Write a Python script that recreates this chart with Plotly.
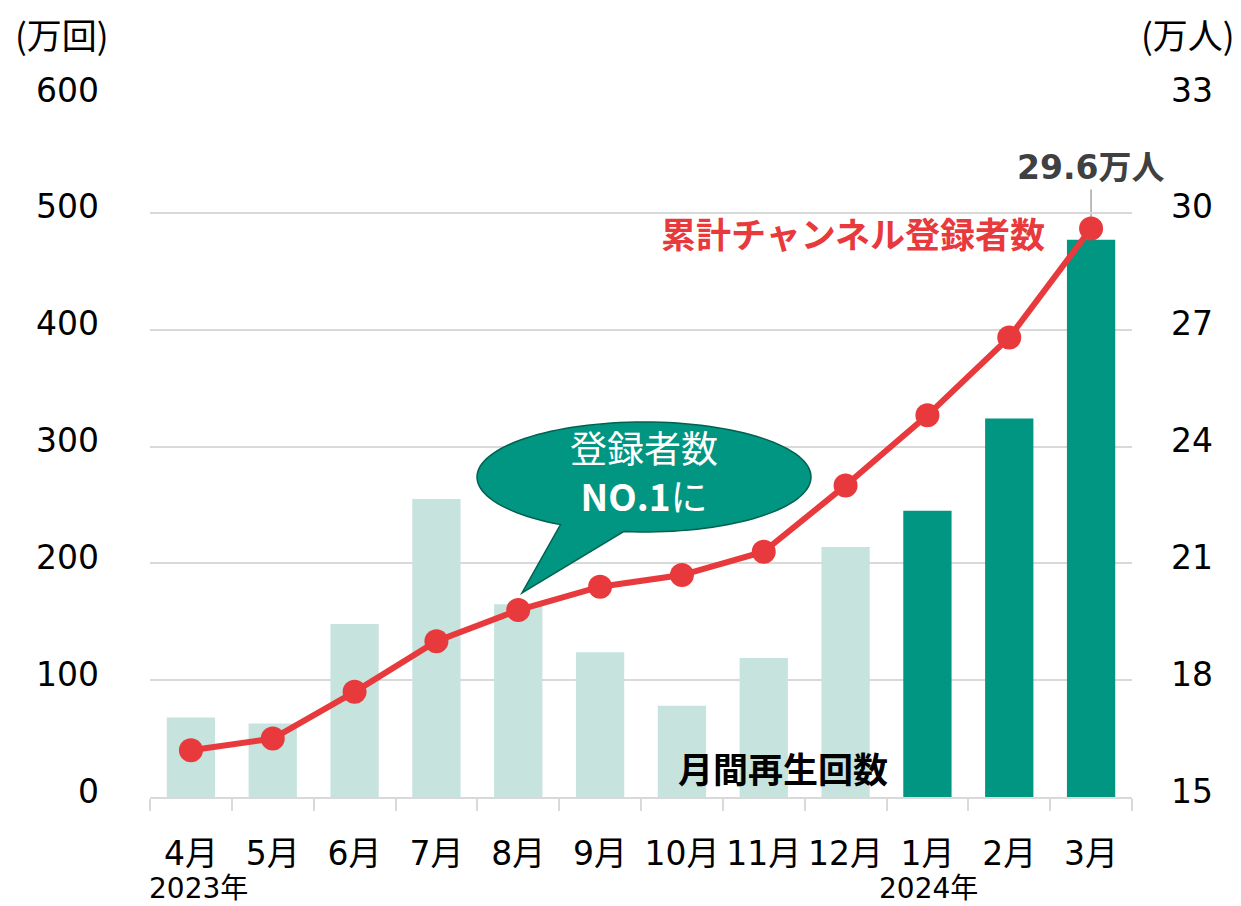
import plotly.graph_objects as go
import numpy as np

months = ["4月", "5月", "6月", "7月", "8月", "9月", "10月", "11月", "12月", "1月", "2月", "3月"]
views = [68, 63, 148, 255, 165, 124, 78, 119, 214, 245, 324, 477]          # 万回
subscribers = [16.2, 16.5, 17.7, 19.0, 19.8, 20.4, 20.7, 21.3, 23.0, 24.8, 26.8, 29.6]  # 万人
year_labels = ["2023年", "2024年"]
left_ticks = [0, 100, 200, 300, 400, 500, 600]
right_ticks = [15, 18, 21, 24, 27, 30, 33]

OFF = 8  # page body margin
W, H = 1241 - OFF, 906 - OFF
ML, MT = 150 - OFF, 96 - OFF
PW, PH = 982, 701
MR, MB = W - ML - PW, H - MT - PH

def px(xp):  # page pixel -> paper
    return (xp - OFF - ML) / PW

def py(yp):
    return (MT + PH - (yp - OFF)) / PH

LIGHT = "#C6E3DE"
DARK = "#009682"
RED = "#E8393C"
FONT = "DejaVu Sans, Noto Sans CJK JP, sans-serif"
JFONT = "Noto Sans CJK JP, sans-serif"

bar_colors = [LIGHT] * 9 + [DARK] * 3

fig = go.Figure()
fig.add_trace(go.Bar(x=months, y=views, marker=dict(color=bar_colors, line=dict(width=0)),
                     yaxis="y", hoverinfo="skip"))
fig.add_trace(go.Scatter(x=months, y=subscribers, yaxis="y2", mode="lines+markers",
                         line=dict(color=RED, width=6),
                         marker=dict(size=24, color=RED, line=dict(width=0)),
                         hoverinfo="skip"))

fig.update_layout(
    width=W, height=H,
    margin=dict(l=ML, r=MR, t=MT, b=MB, autoexpand=False),
    plot_bgcolor="white", paper_bgcolor="white",
    showlegend=False, bargap=0.41,
    font=dict(family=FONT, color="#000000", size=31),
    xaxis=dict(type="category", range=[-0.5, len(months) - 0.5],
               showline=True, linecolor="#d9d9d9", linewidth=2,
               ticks="outside", tickson="boundaries", ticklen=12, tickcolor="#d9d9d9",
               tickwidth=2, tickfont=dict(size=33, family=FONT), ticklabelstandoff=26,
               tickangle=0, automargin=False, showgrid=False),
    yaxis=dict(range=[0, 600], tickvals=left_ticks, showgrid=True, gridcolor="#d9d9d9",
               gridwidth=2, zeroline=False, showline=False, ticks="", automargin=False,
               tickfont=dict(size=33, family=FONT), ticklabelstandoff=50, ticklabelshift=-6),
    yaxis2=dict(range=[15, 33], tickvals=right_ticks, overlaying="y", side="right",
                showgrid=False, zeroline=False, showline=False, ticks="", automargin=False,
                tickfont=dict(size=33, family=FONT), ticklabelstandoff=38, ticklabelshift=-6),
)

# speech bubble
cx, cy, rx, ry = 644, 477, 167, 55
t = np.radians(np.linspace(120, 457, 120))
xs = cx + rx * np.cos(t)
ys = cy + ry * np.sin(t)
tip = (522, 593)
path = "M " + " L ".join(f"{px(a):.5f},{py(b):.5f}" for a, b in zip(xs, ys))
path += f" L {px(tip[0]):.5f},{py(tip[1]):.5f} Z"
fig.add_shape(type="path", path=path, xref="paper", yref="paper",
              fillcolor="#009682", line=dict(color="#00614F", width=1.5), layer="above")

# leader line for final value
fig.add_shape(type="line", xref="x", yref="y2", x0=months[-1], x1=months[-1],
              y0=subscribers[-1], y1=30.6, line=dict(color="#A6A6A6", width=1.5), layer="below")

def ann(text, x, y, size, color="#000000", bold=False, family=JFONT, xanchor="center", yanchor="middle"):
    fig.add_annotation(text=f"<b>{text}</b>" if bold else text, x=px(x), y=py(y),
                       xref="paper", yref="paper", showarrow=False, xanchor=xanchor,
                       yanchor=yanchor, font=dict(size=size, color=color, family=family),
                       borderpad=0)

ann("(万回)", 62, 33, 35, family=JFONT)
ann("(万人)", 1188, 33, 35, family=JFONT)
ann(f"{subscribers[-1]}万人", 1090, 168, 33, color="#404040", bold=True, family=FONT)
ann("累計チャンネル登録者数", 1046, 232, 35, color=RED, bold=True, xanchor="right")
ann("月間再生回数", 783, 767, 35, color="#000000", bold=True)
ann("登録者数<br><b>NO.1</b>に", 644, 471, 37, color="white")
ann(year_labels[0], 198, 906, 28, family=FONT, yanchor="bottom")
ann(year_labels[1], 928, 906, 28, family=FONT, yanchor="bottom")

fig.write_html("out.html")
